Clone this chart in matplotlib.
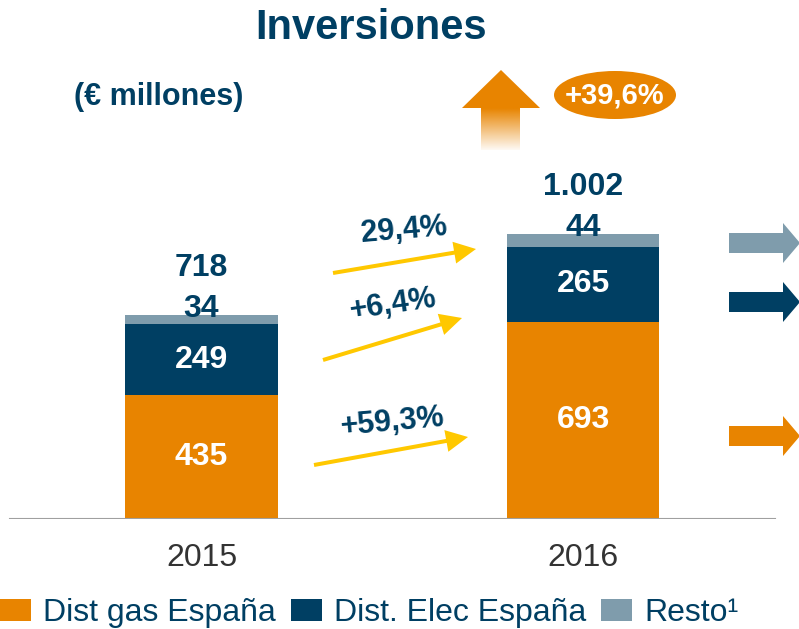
import matplotlib.pyplot as plt
import numpy as np
from matplotlib.patches import Ellipse, Polygon, FancyArrow

plt.rcParams['font.family'] = ['Liberation Sans', 'DejaVu Sans']

years = ['2015', '2016']
gas = [435, 693]
elec = [249, 265]
resto = [34, 44]
totals = ['718', '1.002']
growth = ['+59,3%', '+6,4%', '29,4%']
total_growth = '+39,6%'
legend_labels = ['Dist gas España', 'Dist. Elec España', 'Resto¹']

ORANGE = '#E88400'
NAVY = '#003F63'
GREY = '#7F9CAC'
YELLOW = '#FFC800'

W, H = 799, 629
fig = plt.figure(figsize=(W / 100, H / 100), dpi=100)


def fx(x):
    return x / W


def fy(y):
    return 1 - y / H


# main axes: baseline at y=519 px, 0.2844 px per unit
base = 519
scale = 0.2844
ax = fig.add_axes([0, fy(base), 1, base / H])
ax.set_ylim(0, base / scale)
ax.set_xlim(-201.5 / 381.5, (W - 201.5) / 381.5)
ax.axis('off')

x = np.arange(len(years))
bw = 0.40
b1 = ax.bar(x, gas, bw, color=ORANGE, label=legend_labels[0])
b2 = ax.bar(x, elec, bw, bottom=gas, color=NAVY, label=legend_labels[1])
bot3 = [g + e for g, e in zip(gas, elec)]
b3 = ax.bar(x, resto, bw, bottom=bot3, color=GREY, label=legend_labels[2])
ax.axhline(0, xmin=0.0125, xmax=0.97, color='#A0A0A0', lw=1.5)

for i in range(len(years)):
    ax.text(x[i], gas[i] / 2, str(gas[i]), ha='center', va='center',
            color='white', fontsize=23, fontweight='bold')
    ax.text(x[i], gas[i] + elec[i] / 2, str(elec[i]), ha='center', va='center',
            color='white', fontsize=23, fontweight='bold')
    top = gas[i] + elec[i] + resto[i]
    ax.annotate(str(resto[i]), (x[i], top), xytext=(0, 4), textcoords='offset points',
                ha='center', va='center', color=NAVY, fontsize=23, fontweight='bold')
    ax.annotate(totals[i], (x[i], top), xytext=(0, 34), textcoords='offset points',
                ha='center', va='center', color=NAVY, fontsize=23, fontweight='bold')
    ax.annotate(years[i], (x[i], 0), xytext=(0, -28), textcoords='offset points',
                ha='center', va='center', color='#333333', fontsize=23)

# overlay in pixel coordinates for decorations
ov = fig.add_axes([0, 0, 1, 1], zorder=5)
ov.axis('off')

fig.text(fx(371), fy(28), 'Inversiones', ha='center', va='center',
         fontsize=30, fontweight='bold', color=NAVY)
fig.text(fx(159), fy(97), '(€ millones)', ha='center', va='center',
         fontsize=22, fontweight='bold', color=NAVY)

# big up arrow with fading stem
ov.add_patch(Polygon([[462, 108], [501, 70], [540, 108]], closed=True,
                     color=ORANGE, lw=0))
grad = np.ones((60, 1, 4))
grad[:, 0, :3] = [0xE8 / 255, 0x84 / 255, 0]
grad[:, 0, 3] = np.linspace(1, 0.05, 60)
ov.imshow(grad, extent=[481, 520, 150, 108], aspect='auto', interpolation='bilinear')
ov.set_xlim(0, W)
ov.set_ylim(H, 0)

ov.add_patch(Ellipse((615, 95), 122, 48, color=ORANGE, lw=0))
ov.text(615, 96, total_growth, ha='center', va='center', color='white',
        fontsize=21, fontweight='bold')

# yellow growth arrows
arrows = [((314, 465), (468, 437)), ((323, 360), (462, 318)), ((333, 273), (476, 249))]
label_pos = [(392, 422), (393, 305), (404, 230)]
for (p0, p1), lp, txt in zip(arrows, label_pos, growth):
    ov.add_patch(FancyArrow(p0[0], p0[1], p1[0] - p0[0], p1[1] - p0[1], width=4,
                            head_width=22, head_length=22, length_includes_head=True,
                            color=YELLOW, lw=0))
    ang = -np.degrees(np.arctan2(p1[1] - p0[1], p1[0] - p0[0])) * 0.5
    ov.text(lp[0], lp[1], txt, ha='center', va='center', rotation=ang,
            color=NAVY, fontsize=22, fontweight='bold')

# right side arrows
for yc, c in [(243, GREY), (302, NAVY), (436, ORANGE)]:
    ov.add_patch(Polygon([[729, yc - 10], [783, yc - 10], [783, yc - 20], [800, yc],
                          [783, yc + 20], [783, yc + 10], [729, yc + 10]],
                         closed=True, color=c, lw=0))

fig.legend(handles=[b1, b2, b3], labels=legend_labels, loc='center left',
           bbox_to_anchor=(fx(0), fy(613)), ncol=3, frameon=False, fontsize=23,
           labelcolor=NAVY, handlelength=0.97, handleheight=0.69, handletextpad=0.38,
           columnspacing=0.47, borderaxespad=0, borderpad=0)

fig.savefig('out.png', dpi=100)
